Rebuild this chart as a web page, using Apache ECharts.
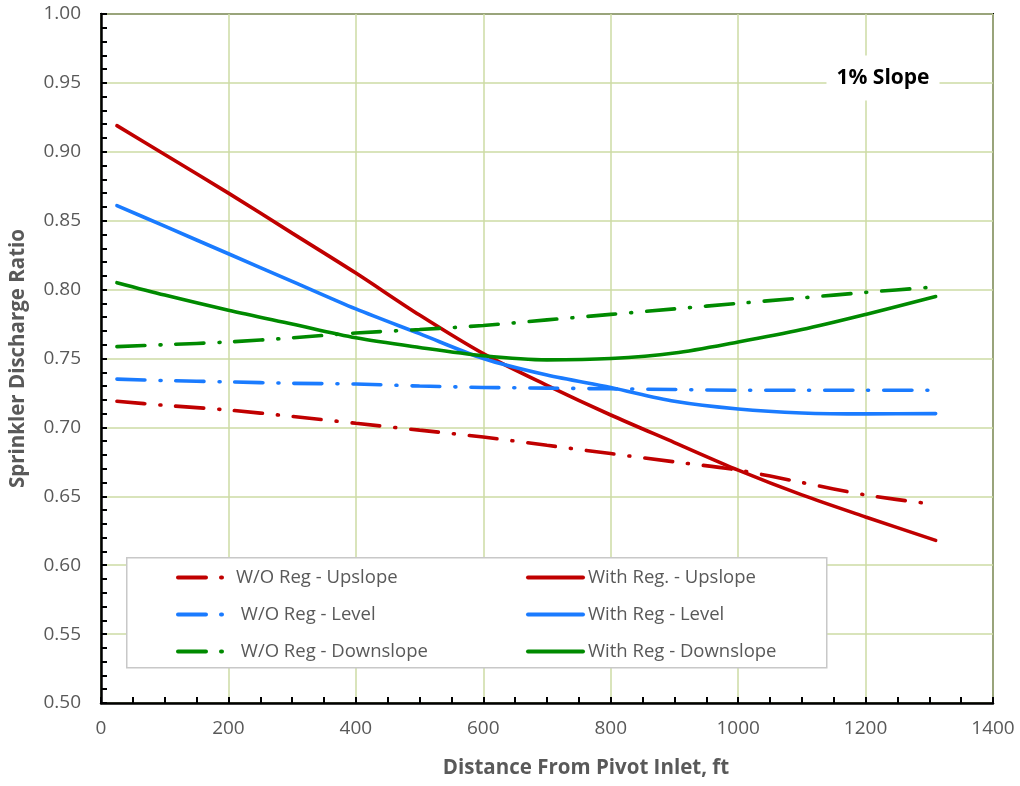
<!DOCTYPE html>
<html>
<head>
<meta charset="utf-8">
<script src="https://cdn.jsdelivr.net/npm/echarts@6/dist/echarts.min.js"></script>
<style>html,body{margin:0;padding:0;background:#fff}#c{width:1020px;height:786px}</style>
</head>
<body>
<div id="c"></div>
<script>
const distances = [25, 100, 200, 300, 400, 500, 600, 700, 800, 900, 1000, 1100, 1200, 1310];
const woUpslope   = [0.719, 0.716, 0.7126, 0.708, 0.703, 0.698, 0.693, 0.687, 0.681, 0.675, 0.669, 0.660, 0.651, 0.644];
const withUpslope = [0.919, 0.898, 0.870, 0.841, 0.812, 0.7815, 0.7535, 0.7305, 0.709, 0.689, 0.669, 0.651, 0.635, 0.618];
const woLevel     = [0.735, 0.734, 0.733, 0.732, 0.7315, 0.730, 0.729, 0.7285, 0.728, 0.7275, 0.727, 0.727, 0.727, 0.727];
const withLevel   = [0.861, 0.846, 0.826, 0.806, 0.786, 0.768, 0.750, 0.738, 0.729, 0.719, 0.7134, 0.7105, 0.7098, 0.710];
const woDown      = [0.7586, 0.760, 0.762, 0.765, 0.7685, 0.771, 0.774, 0.778, 0.782, 0.786, 0.790, 0.794, 0.798, 0.802];
const withDown    = [0.805, 0.796, 0.785, 0.775, 0.765, 0.758, 0.752, 0.749, 0.750, 0.754, 0.762, 0.771, 0.782, 0.795];
const seriesNames = ['W/O Reg - Upslope', 'With Reg. - Upslope', ' W/O Reg - Level', 'With Reg - Level', ' W/O Reg - Downslope', 'With Reg - Downslope'];
const annotation = '1% Slope';
const xTitle = 'Distance From Pivot Inlet, ft';
const yTitle = 'Sprinkler Discharge Ratio';

const RED = '#c00000', BLUE = '#1a7bff', GREEN = '#008a00';
const FONT = '"Open Sans"';
const dashDot = [28, 15, 1, 15];

function pairs(ys) { return distances.map((x, i) => [x, ys[i]]); }
function mk(name, ys, color, dashed) {
  return {
    name: name, type: 'line', data: pairs(ys), symbol: 'none', smooth: 0.3,
    lineStyle: { color: color, width: 3.6, type: dashed ? dashDot : 'solid', cap: 'round' },
    itemStyle: { color: color }
  };
}

const chart = echarts.init(document.getElementById('c'));
function legendText(pad) { return { color: '#595959', fontSize: 18.5, fontFamily: FONT, padding: [0, 0, 0, pad] }; }
chart.setOption({
  animation: false,
  backgroundColor: '#fff',
  grid: { left: 101, top: 14, right: 27, bottom: 83, show: true, borderColor: '#000', borderWidth: 2, backgroundColor: 'transparent' },
  xAxis: {
    type: 'value', min: 0, max: 1400, interval: 200,
    name: xTitle, nameLocation: 'middle', nameGap: 55,
    nameTextStyle: { color: '#595959', fontSize: 20.5, fontWeight: 'bold', fontFamily: FONT, padding: [0, 0, 0, 78] },
    axisLine: { show: true, lineStyle: { color: '#000', width: 2.5 } },
    axisTick: { show: true, inside: true, length: 6, lineStyle: { color: '#000', width: 2 } },
    minorTick: { show: true, splitNumber: 4, length: 6, lineStyle: { color: '#000', width: 2 } },
    axisLabel: { color: '#595959', fontSize: 19, fontFamily: FONT, margin: 16, formatter: v => String(v) },
    splitLine: { show: true, lineStyle: { color: '#cddba4', width: 1.5 } }
  },
  yAxis: {
    type: 'value', min: 0.5, max: 1.0, interval: 0.05,
    name: yTitle, nameLocation: 'middle', nameGap: 72, nameRotate: 90,
    nameTextStyle: { color: '#595959', fontSize: 20.5, fontWeight: 'bold', fontFamily: FONT },
    axisLine: { show: true, lineStyle: { color: '#000', width: 2.5 } },
    axisTick: { show: true, inside: true, length: 6, lineStyle: { color: '#000', width: 2 } },
    minorTick: { show: true, splitNumber: 5, length: 6, lineStyle: { color: '#000', width: 2 } },
    axisLabel: { color: '#595959', fontSize: 19, fontFamily: FONT, margin: 20, formatter: v => v.toFixed(2) },
    splitLine: { show: true, lineStyle: { color: '#cddba4', width: 1.5 } }
  },
  legend: [
    { data: [seriesNames[0], seriesNames[2], seriesNames[4]], orient: 'vertical', left: 171, top: 563,
      itemWidth: 47, itemHeight: 14, itemGap: 18, textStyle: legendText(6), selectedMode: false,
      itemStyle: { opacity: 0 }, lineStyle: { width: 4 } },
    { data: [seriesNames[1], seriesNames[3], seriesNames[5]], orient: 'vertical', left: 521, top: 563,
      itemWidth: 55, itemHeight: 14, itemGap: 18, textStyle: legendText(0), selectedMode: false,
      itemStyle: { opacity: 0 }, lineStyle: { width: 4 } }
  ],
  graphic: [
    { type: 'rect', z: 1, left: 126, top: 557, shape: { width: 700, height: 110 },
      style: { fill: '#fff', stroke: '#c8c8c8', lineWidth: 1.5 } },
    { type: 'text', z: 5, x: 883, y: 78,
      style: { text: annotation, font: 'bold 21px ' + FONT, fill: '#000', align: 'center', verticalAlign: 'middle',
               backgroundColor: '#fff', padding: [12, 10, 12, 10] } }
  ],
  series: [
    mk(seriesNames[0], woUpslope, RED, true),
    mk(seriesNames[1], withUpslope, RED, false),
    mk(seriesNames[2], woLevel, BLUE, true),
    mk(seriesNames[3], withLevel, BLUE, false),
    mk(seriesNames[4], woDown, GREEN, true),
    mk(seriesNames[5], withDown, GREEN, false)
  ]
});
</script>
</body>
</html>
